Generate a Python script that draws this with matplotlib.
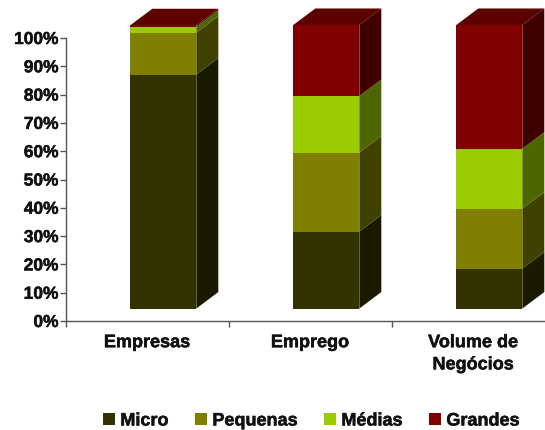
import numpy as np
import matplotlib
matplotlib.use("Agg")
import matplotlib.pyplot as plt
from matplotlib.patches import Patch
import matplotlib.patheffects as pe

plt.rcParams['font.family'] = ['Liberation Sans', 'DejaVu Sans']
plt.rcParams['font.weight'] = 'bold'

categories = ["Empresas", "Emprego", "Volume de\nNegócios"]
series_names = ["Micro", "Pequenas", "Médias", "Grandes"]
micro = [82.7, 27.2, 14.1]
pequenas = [14.8, 27.9, 21.2]
medias = [2.1, 20.0, 21.2]
grandes = [0.5, 25.1, 43.7]
y_ticks = [0, 10, 20, 30, 40, 50, 60, 70, 80, 90, 100]
y_labels = ["0%", "10%", "20%", "30%", "40%", "50%", "60%", "70%", "80%", "90%", "100%"]

front_colors = ["#333300", "#808000", "#99cc00", "#800000"]
side_colors = ["#1a1a00", "#404000", "#4d6600", "#400000"]
lid_color = "#5c0000"
text_color = "#111111"
axis_color = "#555555"
heavier = [pe.withStroke(linewidth=0.35, foreground=text_color)]

W, H = 545, 430
fig = plt.figure(figsize=(W / 100, H / 100), dpi=100)
# axis runs past the right edge of the picture, like the original
ax = fig.add_axes([65.5 / W, (H - 321) / H, 489 / W, 283 / H])
ax.set_xlim(0, 3)
ax.set_ylim(0, 100)

# fake 3d: front face from bar(), side and top faces offset by depth
bar_x = np.array([0.6, 1.6, 2.6])
bar_w = 0.405
base = 4.4
depth_x = 22 / 163
depth_y = 16.5 / 2.83

values = np.array([micro, pequenas, medias, grandes])
bottoms = base + np.vstack([np.zeros(3), np.cumsum(values, axis=0)[:-1]])

for s in range(4):
    ax.bar(bar_x, values[s], bottom=bottoms[s], width=bar_w,
           color=front_colors[s], clip_on=False, zorder=3)
    for i in range(3):
        right = bar_x[i] + bar_w / 2
        y0 = bottoms[s][i]
        y1 = y0 + values[s][i]
        ax.fill([right, right + depth_x, right + depth_x, right],
                [y0, y0 + depth_y, y1 + depth_y, y1],
                color=side_colors[s], lw=0, clip_on=False, zorder=3)

# lid on top of each column
for i in range(3):
    left = bar_x[i] - bar_w / 2
    right = bar_x[i] + bar_w / 2
    top = base + values[:, i].sum()
    ax.fill([left, right, right + depth_x, left + depth_x],
            [top, top, top + depth_y, top + depth_y],
            color=lid_color, lw=0, clip_on=False, zorder=3)

for name in ["top", "right"]:
    ax.spines[name].set_visible(False)
for name in ["left", "bottom"]:
    ax.spines[name].set_color(axis_color)
    ax.spines[name].set_linewidth(1.0)

ax.set_yticks(y_ticks)
ax.set_yticklabels(y_labels, fontsize=12.5, fontweight='bold', color=text_color,
                   path_effects=heavier)
ax.tick_params(axis='y', length=4, width=1, color=axis_color, pad=1)

# ticks on category borders, labels in the middle of each category
ax.set_xticks([0, 1, 2, 3])
ax.set_xticklabels([])
ax.tick_params(axis='x', which='major', length=4, width=1, color=axis_color)
ax.set_xticks([0.5, 1.5, 2.5], minor=True)
ax.set_xticklabels(categories, minor=True, fontsize=13, fontweight='bold',
                   color=text_color, linespacing=1.4, va='top', path_effects=heavier)
ax.tick_params(axis='x', which='minor', length=0, pad=9.5)

handles = [Patch(facecolor=c, edgecolor='none') for c in front_colors]
leg = fig.legend(handles, series_names, loc='center', bbox_to_anchor=(311 / W, (H - 421) / H),
                 ncol=4, frameon=False, fontsize=13, handlelength=0.68, handleheight=0.68,
                 handletextpad=0.3, columnspacing=1.45, borderpad=0, labelcolor=text_color)
for t in leg.get_texts():
    t.set_path_effects(heavier)

fig.savefig("out.png", dpi=100)
